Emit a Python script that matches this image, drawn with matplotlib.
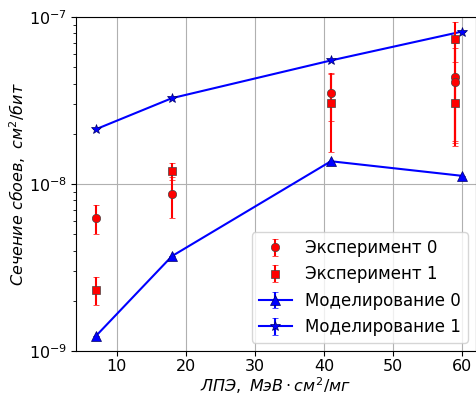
import numpy as np
import matplotlib.pyplot as plt

# ЛПЭ, МэВ*см^2/мг
let_exp0 = [7, 18, 41, 59, 59]
sigma_exp0 = [6.25e-9, 8.7e-9, 3.5e-8, 4.4e-8, 4.1e-8]
err_exp0 = [1.2e-9, 2.4e-9, 1.1e-8, 2.6e-8, 2.4e-8]

let_exp1 = [7, 18, 41, 59, 59]
sigma_exp1 = [2.33e-9, 1.2e-8, 3.05e-8, 7.4e-8, 3.05e-8]
err_exp1 = [0.44e-9, 1.4e-9, 1.5e-8, 2.0e-8, 1.3e-8]

let_mod = [7, 18, 41, 60]
sigma_mod0 = [1.23e-9, 3.7e-9, 1.37e-8, 1.12e-8]
sigma_mod1 = [2.13e-8, 3.27e-8, 5.5e-8, 8.2e-8]
err_mod0 = [0, 0, 0, 0]
err_mod1 = [0, 0, 0, 0]

fig = plt.figure(figsize=(4.77, 3.98), dpi=100)
ax = fig.add_axes([0.159, 0.118, 0.839, 0.839])

ax.errorbar(let_exp0, sigma_exp0, yerr=err_exp0, fmt='o', color='red',
            mec='#444444', mew=0.5, ms=6, capsize=2, elinewidth=1.5,
            label="Эксперимент 0", zorder=3)
ax.errorbar(let_exp1, sigma_exp1, yerr=err_exp1, fmt='s', color='red',
            mec='#444444', mew=0.5, ms=6, capsize=2, elinewidth=1.5,
            label="Эксперимент 1", zorder=3)
ax.errorbar(let_mod, sigma_mod0, yerr=err_mod0, fmt='^-', color='blue',
            mec='#000066', mew=0.5, ms=6.5, capsize=2,
            label="Моделирование 0", zorder=2)
ax.errorbar(let_mod, sigma_mod1, yerr=err_mod1, fmt='*-', color='blue',
            mec='#000066', mew=0.5, ms=7.5, capsize=2,
            label="Моделирование 1", zorder=2)

ax.set_yscale('log')
ax.set_ylim(1e-9, 1e-7)
ax.set_xlim(4.1, 62.0)
ax.grid(True, which='major', color='#b0b0b0', lw=0.8)
ax.set_xlabel(r"$ЛПЭ,\ МэВ \cdot см^2/мг$", fontsize=11.5, labelpad=1)
ax.set_ylabel(r"$Сечение\ сбоев,\ см^2/бит$", fontsize=11.5, labelpad=1)
ax.tick_params(labelsize=11.5, pad=2.5)
ax.legend(loc='lower right', fontsize=12)

plt.savefig("out.png")
